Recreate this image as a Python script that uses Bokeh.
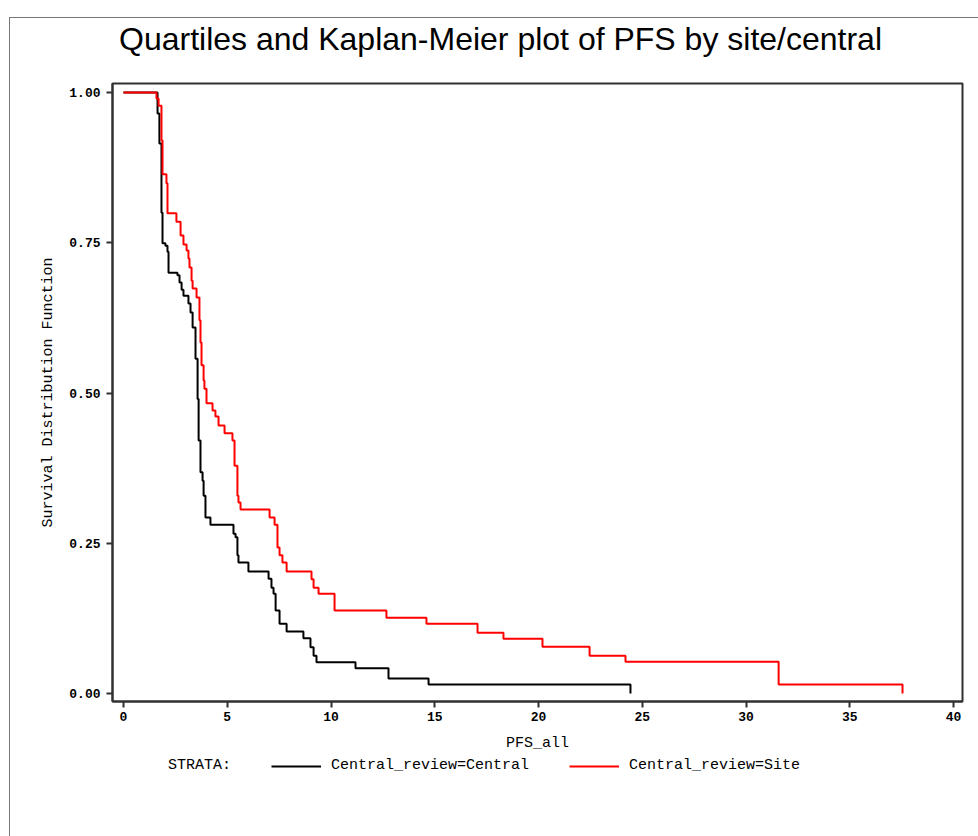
from bokeh.plotting import figure
from bokeh.layouts import column
from bokeh.models import (Legend, LegendItem, FixedTicker, NumeralTickFormatter, Range1d, Label)
from bokeh.embed import file_html
from bokeh.resources import INLINE

# ---- data ----
central_time = [0, 1.64, 1.73, 1.83, 1.88, 2.02, 2.12, 2.17, 2.60, 2.70,
                2.80, 2.89, 3.13, 3.23, 3.33, 3.47, 3.57, 3.62, 3.71, 3.81,
                3.86, 3.95, 4.19, 5.30, 5.40, 5.49, 5.54, 6.02, 6.99, 7.13,
                7.23, 7.33, 7.52, 7.86, 8.67, 9.01, 9.16, 9.30, 11.18, 12.77,
                14.70, 24.43]
central_surv = [1.0, 0.965, 0.915, 0.800, 0.749, 0.745, 0.735, 0.700, 0.696, 0.684,
                0.672, 0.662, 0.649, 0.634, 0.609, 0.557, 0.490, 0.421, 0.368, 0.354,
                0.329, 0.293, 0.281, 0.266, 0.260, 0.230, 0.218, 0.203, 0.191, 0.176,
                0.166, 0.138, 0.116, 0.103, 0.092, 0.077, 0.063, 0.052, 0.042, 0.025,
                0.015, 0.0]

site_time = [0, 1.59, 1.69, 1.83, 1.88, 2.07, 2.12, 2.55, 2.75, 2.89,
             3.04, 3.13, 3.18, 3.28, 3.33, 3.52, 3.66, 3.71, 3.76, 3.86,
             3.90, 4.00, 4.29, 4.43, 4.58, 4.87, 5.25, 5.35, 5.49, 5.54,
             5.64, 7.04, 7.28, 7.42, 7.52, 7.66, 7.86, 9.06, 9.16, 9.40,
             10.17, 12.67, 14.60, 17.06, 18.31, 20.19, 22.46, 24.19, 31.57, 37.54]
site_surv = [1.0, 0.990, 0.978, 0.920, 0.864, 0.849, 0.799, 0.785, 0.762, 0.747,
             0.737, 0.724, 0.709, 0.687, 0.674, 0.659, 0.621, 0.584, 0.546, 0.521,
             0.507, 0.483, 0.471, 0.461, 0.446, 0.433, 0.421, 0.379, 0.329, 0.318,
             0.306, 0.293, 0.281, 0.243, 0.230, 0.218, 0.203, 0.190, 0.176, 0.166,
             0.138, 0.126, 0.116, 0.101, 0.091, 0.078, 0.063, 0.053, 0.015, 0.0]

x_ticks = [0, 5, 10, 15, 20, 25, 30, 35, 40]
y_ticks = [0.0, 0.25, 0.5, 0.75, 1.0]

title_text = "Quartiles and Kaplan-Meier plot of PFS by site/central"
x_label = "PFS_all"
y_label = "Survival Distribution Function"
strata_label = "STRATA:"
series_labels = ["Central_review=Central", "Central_review=Site"]
series_colors = ["black", "red"]

MONO = "Liberation Mono"
LW = 2

# ---- title strip ----
pt = figure(width=968, height=64, output_backend="svg", toolbar_location=None,
            x_range=Range1d(0, 1), y_range=Range1d(0, 1),
            x_axis_type=None, y_axis_type=None,
            min_border=0, min_border_left=0, min_border_right=0,
            min_border_top=0, min_border_bottom=0)
pt.outline_line_color = None
pt.background_fill_color = "white"
pt.border_fill_color = "white"
pt.add_layout(Label(x=388, y=44, x_units="screen", y_units="screen",
                    text=title_text, text_align="center", text_baseline="middle",
                    text_font="Liberation Sans", text_font_size="32px",
                    text_color="black"))

# ---- main plot ----
p = figure(width=968, height=675, output_backend="svg", toolbar_location=None,
           x_range=Range1d(-0.53, 40.43), y_range=Range1d(-0.0133, 1.015),
           min_border_left=102, min_border_right=16, min_border_top=1,
           min_border_bottom=56)
p.title = None
p.grid.visible = False
p.outline_line_color = "#303030"
p.outline_line_width = 2
p.background_fill_color = "white"
p.border_fill_color = "white"

for ax in (p.xaxis[0], p.yaxis[0]):
    ax.axis_line_color = "#303030"
    ax.axis_line_width = 2
    ax.major_tick_line_color = "#303030"
    ax.major_tick_line_width = 2
    ax.major_tick_out = 6
    ax.major_tick_in = 0
    ax.minor_tick_line_color = None
    ax.major_label_text_font = MONO
    ax.major_label_text_font_size = "13px"
    ax.major_label_text_font_style = "bold"
    ax.major_label_text_color = "black"
    ax.axis_label_text_font = MONO
    ax.axis_label_text_font_size = "15px"
    ax.axis_label_text_font_style = "normal"
    ax.axis_label_text_color = "black"

p.xaxis[0].ticker = FixedTicker(ticks=x_ticks)
p.yaxis[0].ticker = FixedTicker(ticks=y_ticks)
p.yaxis[0].formatter = NumeralTickFormatter(format="0.00")
p.xaxis[0].axis_label = x_label
p.yaxis[0].axis_label = y_label
p.xaxis[0].major_label_standoff = 4
p.xaxis[0].axis_label_standoff = 11
p.yaxis[0].major_label_standoff = 6
p.yaxis[0].axis_label_standoff = 9

p.step(central_time, central_surv, mode="after", line_color=series_colors[0], line_width=LW)
p.step(site_time, site_surv, mode="after", line_color=series_colors[1], line_width=LW)

# ---- legend strip (same series, drawn off-range so only the legend shows) ----
pl = figure(width=968, height=79, output_backend="svg", toolbar_location=None,
            x_range=Range1d(-20, -10), y_range=Range1d(-20, -10),
            x_axis_type=None, y_axis_type=None,
            min_border=0, min_border_left=0, min_border_right=0,
            min_border_top=0, min_border_bottom=0)
pl.outline_line_color = None
pl.background_fill_color = "white"
pl.border_fill_color = "white"
d0 = pl.line(central_time, central_surv, line_alpha=0)
d1 = pl.step(central_time, central_surv, mode="after", line_color=series_colors[0], line_width=LW)
d2 = pl.step(site_time, site_surv, mode="after", line_color=series_colors[1], line_width=LW)

legend = Legend(items=[LegendItem(label=strata_label, renderers=[d0]),
                       LegendItem(label=series_labels[0], renderers=[d1]),
                       LegendItem(label=series_labels[1], renderers=[d2])],
                orientation="horizontal", location=(-4, 79 - 17),
                margin=0, padding=0, spacing=40, glyph_width=50, glyph_height=14,
                label_standoff=10, label_text_font=MONO, label_text_font_size="15px",
                label_text_color="black",
                border_line_color=None, background_fill_alpha=0)
pl.add_layout(legend)

lay = column(pt, p, pl, spacing=0,
             styles={"margin-left": "9px", "margin-top": "17px",
                     "border-left": "1px solid #777777", "border-top": "1px solid #777777"})

open("out.html", "w").write(file_html(lay, INLINE))
